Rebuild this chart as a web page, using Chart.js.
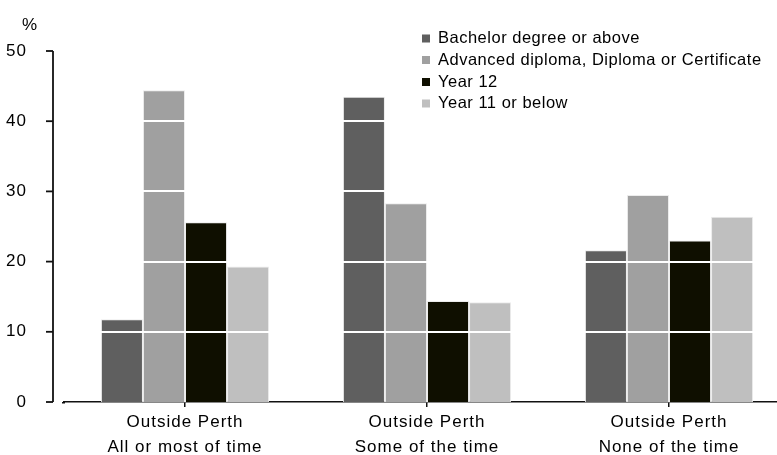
<!DOCTYPE html>
<html>
<head>
<meta charset="utf-8">
<script src="https://cdn.jsdelivr.net/npm/chart.js@4"></script>
<style>
  html, body { margin: 0; padding: 0; overflow: hidden; background: #fff; }
  #wrap { width: 792px; height: 455px; }
</style>
</head>
<body>
<div id="wrap"><canvas id="mycanvas" width="792" height="455"></canvas></div>
<script>
// categories and series
var categories = [
	['Outside Perth', 'All or most of time'],
	['Outside Perth', 'Some of the time'],
	['Outside Perth', 'None of the time']
];
var seriesNames = [
	'Bachelor degree or above',
	'Advanced diploma, Diploma or Certificate',
	'Year 12',
	'Year 11 or below'
];
var bachelor = [11.8, 43.5, 21.6];
var advanced = [44.4, 28.3, 29.5];
var year12 = [25.6, 14.4, 23.0];
var year11 = [19.3, 14.2, 26.4];
var yTicks = [0, 10, 20, 30, 40, 50];
var colours = ['#5f5f5f', '#a0a0a0', '#0f0f00', '#bfbfbf'];

var FONT = '"Liberation Sans", Arial, sans-serif';
var values = [bachelor, advanced, year12, year11];

var datasets = [];
for (var i = 0; i < seriesNames.length; i++) {
	datasets.push({
		label: seriesNames[i],
		data: values[i],
		backgroundColor: colours[i],
		borderColor: '#ececec',
		borderWidth: 1,
		categoryPercentage: 0.695,
		barPercentage: 1.0
	});
}

// white grid lines over the bars, y axis drawn apart from the x axis, legend and unit
var extras = {
	id: 'extras',
	beforeDraw: function(chart) {
		// the original font is wide, spread the axis labels a little
		chart.ctx.letterSpacing = '1px';
	},
	afterDatasetsDraw: function(chart) {
		var ctx = chart.ctx, area = chart.chartArea, y = chart.scales.y;
		ctx.save();
		ctx.strokeStyle = '#ffffff';
		ctx.lineWidth = 2;
		yTicks.forEach(function(t) {
			if (t == 0 || t == 50) return;
			var py = Math.round(y.getPixelForValue(t));
			ctx.beginPath();
			ctx.moveTo(area.left, py);
			ctx.lineTo(area.right, py);
			ctx.stroke();
		});
		ctx.restore();
	},
	afterDraw: function(chart) {
		var ctx = chart.ctx, area = chart.chartArea, y = chart.scales.y;
		var x0 = area.left - 11;
		ctx.save();
		ctx.strokeStyle = '#111';
		ctx.lineWidth = 1.8;
		ctx.beginPath();
		ctx.moveTo(x0, y.getPixelForValue(50));
		ctx.lineTo(x0, y.getPixelForValue(0));
		ctx.stroke();
		yTicks.forEach(function(t) {
			var py = y.getPixelForValue(t);
			ctx.beginPath();
			ctx.moveTo(x0 - 7, py);
			ctx.lineTo(x0, py);
			ctx.stroke();
		});
		// x axis starts a touch left of the plot
		ctx.lineWidth = 1.5;
		ctx.beginPath();
		ctx.moveTo(area.left - 2, area.bottom + 0.75);
		ctx.lineTo(area.left + 1, area.bottom + 0.75);
		ctx.stroke();

		ctx.fillStyle = '#000';
		ctx.letterSpacing = '0px';
		ctx.font = '17px ' + FONT;
		ctx.textBaseline = 'middle';
		ctx.fillText('%', 22, 25);

		// legend
		ctx.letterSpacing = '0.5px';
		ctx.font = '16.5px ' + FONT;
		var rows = [38.5, 60, 82, 103.5];
		for (var i = 0; i < seriesNames.length; i++) {
			ctx.fillStyle = colours[i];
			ctx.fillRect(422, rows[i] - 4, 8, 8);
			ctx.fillStyle = '#000';
			ctx.fillText(seriesNames[i], 438, rows[i]);
		}
		ctx.restore();
	}
};

var ctx = document.getElementById('mycanvas');
var barGraph = new Chart(ctx, {
	type: 'bar',
	data: { labels: categories, datasets: datasets },
	options: {
		responsive: false,
		animation: false,
		layout: { padding: { top: 51, right: 2, left: 0, bottom: 0 } },
		plugins: { legend: { display: false }, tooltip: { enabled: false } },
		scales: {
			x: {
				grid: { display: true, drawOnChartArea: false, drawTicks: true, tickLength: 5, offset: false, color: '#111', lineWidth: 1.5 },
				border: { display: true, color: '#111', width: 1.5 },
				ticks: { color: '#000', padding: 3, maxRotation: 0, autoSkip: false, font: { family: FONT, size: 17, lineHeight: 1.45 } },
				afterFit: function(scale) { scale.height = 53; }
			},
			y: {
				min: 0,
				max: 50,
				grid: { display: false },
				border: { display: false },
				ticks: { stepSize: 10, color: '#000', padding: 29, font: { family: FONT, size: 17 } },
				afterFit: function(scale) { scale.width = 64; }
			}
		}
	},
	plugins: [extras]
});
</script>
</body>
</html>
